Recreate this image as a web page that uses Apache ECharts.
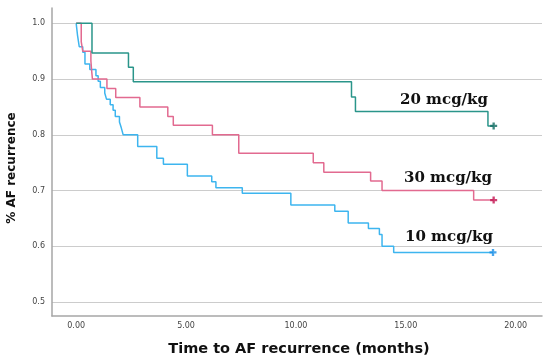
<!DOCTYPE html>
<html><head><meta charset="utf-8">
<script src="https://cdn.jsdelivr.net/npm/echarts@6/dist/echarts.min.js"></script>
<style>html,body{margin:0;padding:0;background:#fff}#c{width:550px;height:364px}</style>
</head><body><div id="c"></div>
<script>
// ---- data ----
const groupNames = ['10 mcg/kg', '30 mcg/kg', '20 mcg/kg'];

const timeBlue = [0, 0.06, 0.14, 0.3, 0.4, 0.62, 0.9, 1.0, 1.1, 1.3, 1.38, 1.55, 1.68, 1.78, 1.97, 2.05, 2.14, 2.8, 3.67, 3.97, 5.06, 6.17, 6.36, 7.56, 9.77, 11.77, 12.38, 13.3, 13.8, 13.92, 14.45, 18.97];
const survBlue = [1.0, 0.979, 0.958, 0.948, 0.927, 0.917, 0.906, 0.896, 0.885, 0.875, 0.864, 0.854, 0.844, 0.833, 0.823, 0.813, 0.8, 0.779, 0.758, 0.747, 0.726, 0.716, 0.705, 0.695, 0.674, 0.663, 0.642, 0.632, 0.621, 0.6, 0.589, 0.589];

const timePink = [0, 0.23, 0.3, 0.67, 0.7, 0.74, 1.4, 1.8, 2.9, 4.17, 4.42, 6.2, 7.4, 10.79, 11.27, 13.4, 13.92, 18.09, 19.0];
const survPink = [1.0, 0.967, 0.95, 0.933, 0.917, 0.9, 0.883, 0.867, 0.85, 0.833, 0.817, 0.8, 0.767, 0.75, 0.733, 0.717, 0.7, 0.683, 0.683];

const timeGreen = [0, 0.72, 2.38, 2.6, 12.53, 12.71, 18.74, 19.0];
const survGreen = [1.0, 0.947, 0.921, 0.895, 0.868, 0.842, 0.816, 0.816];

const xTickValues = [0, 5, 10, 15, 20];
const yTickValues = [0.5, 0.6, 0.7, 0.8, 0.9, 1.0];
const xTitle = 'Time to AF recurrence (months)';
const yTitle = '% AF recurrence';

// ---- build ----
function pairs(t, s) { return t.map((x, i) => [x, s[i]]); }
function last(t, s) { return [[t[t.length - 1], s[s.length - 1]]]; }
function isTick(v, arr) { return arr.some(a => Math.abs(a - v) < 1e-6); }

const lineCol = ['#3db5ef', '#e26a90', '#2a958a'];
const markCol = ['#1a8fe6', '#c2124f', '#0f6a60'];
const curves = [pairs(timeBlue, survBlue), pairs(timePink, survPink), pairs(timeGreen, survGreen)];
const censors = [last(timeBlue, survBlue), last(timePink, survPink), last(timeGreen, survGreen)];
const plus = 'path://M2,0H4V2H6V4H4V6H2V4H0V2H2Z';

const series = [];
curves.forEach((d, i) => {
  series.push({
    name: groupNames[i], type: 'line', step: 'end', data: d, showSymbol: false,
    lineStyle: { color: lineCol[i], width: 1.5 }, z: 3 + i, silent: true
  });
});
censors.forEach((d, i) => {
  series.push({
    type: 'scatter', data: d, symbol: plus, symbolSize: 7,
    itemStyle: { color: markCol[i] }, z: 10, silent: true
  });
});

const chart = echarts.init(document.getElementById('c'), null, { renderer: 'canvas' });
chart.setOption({
  animation: false,
  backgroundColor: '#fff',
  grid: { left: 52, right: 8, top: 8, bottom: 48 },
  xAxis: {
    type: 'value', min: -1.1, max: 21.2, interval: 0.1,
    axisLine: { show: true, onZero: false, lineStyle: { color: '#a6a6a6', width: 1.5 } },
    axisTick: { show: false }, splitLine: { show: false },
    axisLabel: { margin: 6, fontFamily: 'DejaVu Sans', fontSize: 8, color: '#444',
      formatter: v => isTick(v, xTickValues) ? Number(v).toFixed(2) : '' }
  },
  yAxis: {
    type: 'value', min: 0.475, max: 1.0275, interval: 0.025,
    axisLine: { show: true, onZero: false, lineStyle: { color: '#a6a6a6', width: 1.5 } },
    axisTick: { show: false },
    splitLine: { show: true, lineStyle: { color: ['rgba(0,0,0,0)', '#cccccc', 'rgba(0,0,0,0)', 'rgba(0,0,0,0)'], width: 1 } },
    axisLabel: { margin: 7, fontFamily: 'DejaVu Sans', fontSize: 8, color: '#444',
      formatter: v => isTick(v, yTickValues) ? Number(v).toFixed(1) : '' }
  },
  series: series,
  graphic: [
    { type: 'text', x: 444, y: 100, style: { text: groupNames[2], font: 'bold 15px "DejaVu Serif"', fill: '#111', textAlign: 'center', textVerticalAlign: 'middle' } },
    { type: 'text', x: 448, y: 178.5, style: { text: groupNames[1], font: 'bold 15px "DejaVu Serif"', fill: '#111', textAlign: 'center', textVerticalAlign: 'middle' } },
    { type: 'text', x: 449, y: 237, style: { text: groupNames[0], font: 'bold 15px "DejaVu Serif"', fill: '#111', textAlign: 'center', textVerticalAlign: 'middle' } },
    { type: 'text', x: 299, y: 349, style: { text: xTitle, font: 'bold 14.5px "DejaVu Sans"', fill: '#111', textAlign: 'center', textVerticalAlign: 'middle' } },
    { type: 'text', x: 12, y: 168, rotation: Math.PI / 2, style: { text: yTitle, font: 'bold 12px "DejaVu Sans"', fill: '#111', textAlign: 'center', textVerticalAlign: 'middle' } }
  ]
});
</script>
</body></html>
